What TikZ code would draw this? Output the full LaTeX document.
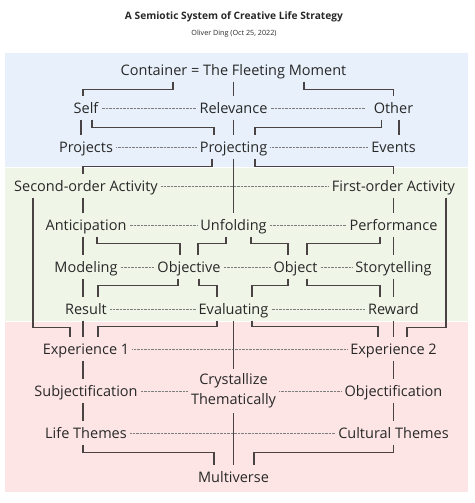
\documentclass[tikz,border=0pt]{standalone}
\usepackage{fontspec}
\setmainfont{Open Sans}
\usepackage{xcolor}
\usetikzlibrary{positioning,calc}
\definecolor{bandblue}{RGB}{232,241,251}
\definecolor{bandgreen}{RGB}{239,246,232}
\definecolor{bandred}{RGB}{253,229,229}
\definecolor{linkgray}{RGB}{74,67,67}
\definecolor{textgray}{RGB}{40,40,40}
\definecolor{dotgray}{RGB}{125,125,125}

\begin{document}
\begin{tikzpicture}[x=1pt, y=-1pt,
  term/.style={text=textgray, font=\fontsize{14.5}{17}\selectfont, text height=10.5pt, text depth=0pt, inner xsep=3pt, inner ysep=6.25pt},
  link/.style={draw=linkgray, line width=1.3pt},
  dots/.style={draw=dotgray, line width=0.65pt, dash pattern=on 0.7pt off 0.7pt}
]
  \useasboundingbox (0,0) rectangle (474,503);
  % bands
  \fill[bandblue] (5,53) rectangle (468,166.5);
  \fill[bandgreen] (5,167.5) rectangle (468,320.5);
  \fill[bandred] (5,321.5) rectangle (468,492);

  % title
  \node[font=\bfseries\fontsize{10.2}{12}\selectfont, text=textgray] (title) at (234,17) {A Semiotic System of Creative Life Strategy};
  \node[font=\fontsize{7.2}{9}\selectfont, text=textgray] (author) at (234,34) {Oliver Ding (Oct 25, 2022)};

  % terms
  \node[term] (cont) at (233.5,70) {Container = The Fleeting Moment};
  \node[term] (self) at (86,108) {Self};
  \node[term] (rel) at (233.5,108) {Relevance};
  \node[term] (other) at (393.5,108) {Other};
  \node[term] (projects) at (86,147) {Projects};
  \node[term] (projecting) at (233.5,147) {Projecting};
  \node[term] (events) at (393.5,147) {Events};
  \node[term] (second) at (86,186) {Second-order Activity};
  \node[term] (first) at (393.5,186) {First-order Activity};
  \node[term] (anticip) at (86,225) {Anticipation};
  \node[term] (unfold) at (233.5,225) {Unfolding};
  \node[term] (perform) at (393.5,225) {Performance};
  \node[term] (modeling) at (86,267) {Modeling};
  \node[term] (objective) at (189,267) {Objective};
  \node[term] (object) at (295.5,267) {Object};
  \node[term] (story) at (393.5,267) {Storytelling};
  \node[term] (result) at (86,309) {Result};
  \node[term] (eval) at (233.5,309) {Evaluating};
  \node[term] (reward) at (393.5,309) {Reward};
  \node[term] (exp1) at (86,349) {Experience 1};
  \node[term] (exp2) at (393.5,349) {Experience 2};
  \node[term] (subj) at (86,391) {Subjectification};
  \node[term, text height=, text depth=, inner ysep=4.75pt, align=center, font=\fontsize{14.5}{20}\selectfont] (crystal) at (233.5,391) {Crystallize\\Thematically};
  \node[term] (objf) at (393.5,391) {Objectification};
  \node[term] (life) at (86,433) {Life Themes};
  \node[term] (cultural) at (393.5,433) {Cultural Themes};
  \node[term] (multi) at (233.5,477) {Multiverse};

  % dotted relations
  \draw[dots] (self.east) -- (rel.west);
  \draw[dots] (rel.east) -- ([xshift=-6pt]other.west);
  \draw[dots] (projects.east) -- (projecting.west);
  \draw[dots] (projecting.east) -- (events.west);
  \draw[dots] (second.east) -- (first.west);
  \draw[dots] (anticip.east) -- (unfold.west);
  \draw[dots] (unfold.east) -- (perform.west);
  \draw[dots] (modeling.east) -- (objective.west);
  \draw[dots] (objective.east) -- (object.west);
  \draw[dots] (object.east) -- (story.west);
  \draw[dots] (result.east) -- (eval.west);
  \draw[dots] (eval.east) -- (reward.west);
  \draw[dots] (exp1.east) -- (exp2.west);
  \draw[dots] (subj.east) -- (crystal.west);
  \draw[dots] (crystal.east) -- (objf.west);
  \draw[dots] (life.east) -- (cultural.west);

  % container
  \draw[link] ([xshift=-60.5pt]cont.south) -- ++(0,8) -| ([xshift=-3pt]self.north);
  \draw[link] (cont.south) -- (rel.north);
  \draw[link] ([xshift=70.5pt]cont.south) -- ++(0,8) -| (other.north);
  % projecting
  \draw[link] ([xshift=-5pt]self.south) -- ([xshift=-5pt]projects.north);
  \draw[link] ([xshift=6pt]self.south) -- ++(0,8) -| ([xshift=-19.5pt]projecting.north);
  \draw[link] (rel.south) -- (projecting.north);
  \draw[link] ([xshift=-12pt]other.south) -- ++(0,8) -| ([xshift=21.5pt]projecting.north);
  \draw[link] ([xshift=5.5pt]other.south) -- ([xshift=5.5pt]events.north);
  % activities
  \draw[link] ([xshift=-21.5pt]projecting.south) -- ++(0,8) -| ([xshift=-3pt]second.north);
  \draw[link] (projecting.south) -- (unfold.north);
  \draw[link] ([xshift=21.5pt]projecting.south) -- ++(0,8) -| (first.north);
  \draw[link] ([xshift=-3pt]second.south) -- ([xshift=-3pt]anticip.north);
  \draw[link] (first.south) -- (perform.north);
  \draw[link] ([xshift=-53pt]second.south) |- ([xshift=-16pt,yshift=10pt]exp1.north) -- ([xshift=-16pt]exp1.north);
  \draw[link] ([xshift=52.5pt]first.south) |- ([xshift=13.5pt,yshift=10pt]exp2.north) -- ([xshift=13.5pt]exp2.north);
  % objective and object
  \draw[link] ([xshift=-3pt]anticip.south) -- ([xshift=-3pt]modeling.north);
  \draw[link] ([xshift=11pt]anticip.south) -- ++(0,7) -| ([xshift=-9pt]objective.north);
  \draw[link] ([xshift=-7.5pt]unfold.south) -- ++(0,7) -| ([xshift=9pt]objective.north);
  \draw[link] ([xshift=17.5pt]unfold.south) -- ++(0,7) -| ([xshift=-7.5pt]object.north);
  \draw[link] ([xshift=-13.5pt]perform.south) -- ++(0,7) -| ([xshift=11.5pt]object.north);
  \draw[link] (perform.south) -- (story.north);
  % evaluating
  \draw[link] ([xshift=-3pt]modeling.south) -- ([xshift=-3pt]result.north);
  \draw[link] ([xshift=-11pt]objective.south) -- ++(0,7) -| ([xshift=12pt]result.north);
  \draw[link] ([xshift=10pt]objective.south) -- ++(0,7) -| ([xshift=-16.5pt]eval.north);
  \draw[link] ([xshift=-7.5pt]object.south) -- ++(0,7) -| ([xshift=18.5pt]eval.north);
  \draw[link] ([xshift=11.5pt]object.south) -- ++(0,7) -| ([xshift=-13.5pt]reward.north);
  \draw[link] (story.south) -- (reward.north);
  % experiences
  \draw[link] ([xshift=-3pt]result.south) -- ([xshift=-3pt]exp1.north);
  \draw[link] ([xshift=-16.5pt]eval.south) -- ++(0,6) -| ([xshift=12pt]exp1.north);
  \draw[link] (eval.south) -- (crystal.north);
  \draw[link] ([xshift=18.5pt]eval.south) -- ++(0,6) -| ([xshift=-15.5pt]exp2.north);
  \draw[link] (reward.south) -- (exp2.north);
  % themes
  \draw[link] ([xshift=-3pt]exp1.south) -- ([xshift=-3pt]subj.north);
  \draw[link] (exp2.south) -- (objf.north);
  \draw[link] ([xshift=-3pt]subj.south) -- ([xshift=-3pt]life.north);
  \draw[link] (objf.south) -- (cultural.north);
  \draw[link] (crystal.south) -- (multi.north);
  \draw[link] ([xshift=-3pt]life.south) -- ++(0,8) -| ([xshift=-19.5pt]multi.north);
  \draw[link] (cultural.south) -- ++(0,8) -| ([xshift=20.5pt]multi.north);
\end{tikzpicture}
\end{document}
